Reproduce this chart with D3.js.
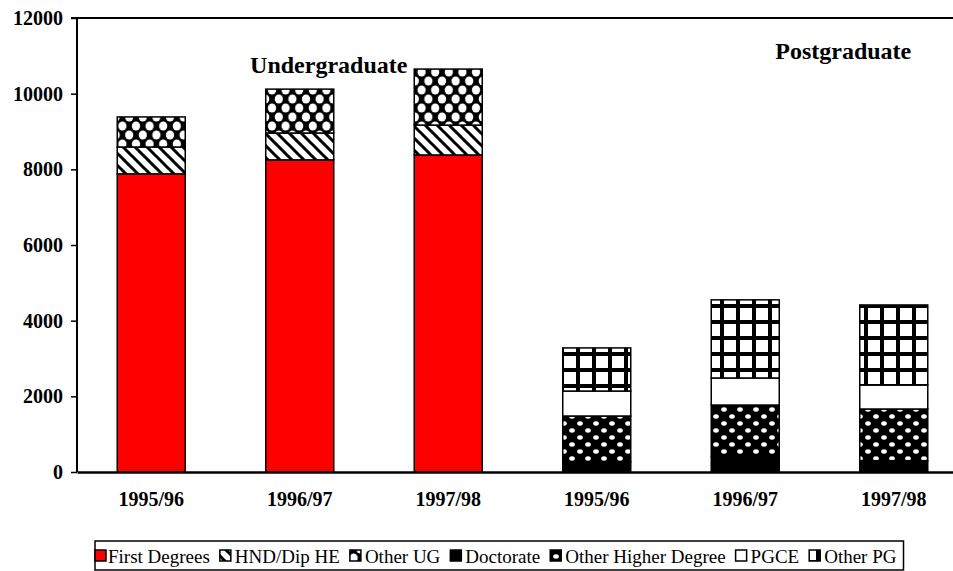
<!DOCTYPE html>
<html><head><meta charset="utf-8">
<script src="https://cdn.jsdelivr.net/npm/d3@7"></script>
<style>html,body{margin:0;padding:0;background:#fff;} svg{display:block;}</style>
</head><body>
<svg id="chart" width="953" height="571"></svg>
<script>
// ---- data ----
const barLabels = ["1995/96","1996/97","1997/98","1995/96","1996/97","1997/98"];
const seriesNames = ["First Degrees","HND/Dip HE","Other UG","Doctorate","Other Higher Degree","PGCE","Other PG"];
const firstDegrees     = [7880, 8250, 8380, 0, 0, 0];
const hndDipHE         = [ 710,  710,  790, 0, 0, 0];
const otherUG          = [ 795, 1160, 1480, 0, 0, 0];
const doctorate        = [0, 0, 0,  260,  420,  300];
const otherHigherDeg   = [0, 0, 0, 1220, 1350, 1365];
const pgce             = [0, 0, 0,  660,  715,  635];
const otherPG          = [0, 0, 0, 1140, 2065, 2115];
const yTicks = [0, 2000, 4000, 6000, 8000, 10000, 12000];
const groupLabels = ["Undergraduate", "Postgraduate"];

const seriesValues = [firstDegrees, hndDipHE, otherUG, doctorate, otherHigherDeg, pgce, otherPG];

// ---- layout ----
const svg = d3.select("#chart");
const L = 77, R = 968, T = 18, B = 472;
const FONT = "'Liberation Serif','Times New Roman',serif";

// patterns
const defs = svg.append("defs");
// diagonal
let p = defs.append("pattern").attr("id","pHND").attr("patternUnits","userSpaceOnUse").attr("width",12).attr("height",12);
p.append("rect").attr("width",12).attr("height",12).attr("fill","#fff");
p.append("path").attr("d","M-3,-3 L15,15 M-9,3 L3,15 M3,-9 L15,3").attr("stroke","#000").attr("stroke-width",3);
// cross-hatch with white blobs
p = defs.append("pattern").attr("id","pOUG").attr("patternUnits","userSpaceOnUse").attr("width",13.6).attr("height",18);
p.append("rect").attr("width",13.6).attr("height",18).attr("fill","#000");
[[0,0],[13.6,0],[0,18],[13.6,18],[6.8,9]].forEach(c=>p.append("ellipse").attr("cx",c[0]).attr("cy",c[1]).attr("rx",4.1).attr("ry",4.5).attr("fill","#fff"));
// dots on black
p = defs.append("pattern").attr("id","pOHD").attr("patternUnits","userSpaceOnUse").attr("width",16).attr("height",14);
p.append("rect").attr("width",16).attr("height",14).attr("fill","#000");
[[4,3.5],[12,10.5]].forEach(c=>{
  p.append("ellipse").attr("cx",c[0]).attr("cy",c[1]).attr("rx",2.8).attr("ry",2.2).attr("fill","#fff");
});
// grid
p = defs.append("pattern").attr("id","pOPG").attr("patternUnits","userSpaceOnUse").attr("width",16).attr("height",16);
p.append("rect").attr("width",16).attr("height",16).attr("fill","#000");
p.append("rect").attr("x",4).attr("y",4).attr("width",12).attr("height",12).attr("fill","#fff");

const fills = ["#ff0000","url(#pHND)","url(#pOUG)","#000","url(#pOHD)","#fff","url(#pOPG)"];

const x = d3.scaleBand().domain(d3.range(barLabels.length)).range([L, R]).paddingInner(0.542).paddingOuter(0.271);
const y = d3.scaleLinear().domain([0, 12000]).range([B, T]);

// stack
const rows = barLabels.map((lab,i)=>{ const o={i}; seriesNames.forEach((s,k)=>o[s]=seriesValues[k][i]); return o; });
const stacked = d3.stack().keys(seriesNames)(rows);

const gBars = svg.append("g");
stacked.forEach((layer,k)=>{
  gBars.selectAll(null).data(layer.filter(d=>d[1]-d[0]>0)).enter().append("rect")
    .attr("x", d=>x(d.data.i)).attr("width", x.bandwidth())
    .attr("y", d=>y(d[1])).attr("height", d=>y(d[0])-y(d[1]))
    .attr("fill", fills[k]).attr("stroke","#000").attr("stroke-width",1.5);
});

// axes
const yAxis = svg.append("g").attr("transform",`translate(${L},0)`)
  .call(d3.axisLeft(y).tickValues(yTicks).tickSize(6).tickPadding(8).tickFormat(d3.format("d")));
yAxis.select(".domain").attr("stroke","#000").attr("stroke-width",2).attr("d",`M-6,${T}H0V${B}`);
yAxis.selectAll(".tick line").attr("stroke","#000").attr("stroke-width",1.5);
yAxis.selectAll("text").attr("font-family",FONT).attr("font-weight","bold").attr("font-size",20).attr("fill","#000");

const xAxis = svg.append("g").attr("transform",`translate(0,${B})`)
  .call(d3.axisBottom(x).tickSize(0).tickPadding(20).tickFormat(i=>barLabels[i]));
xAxis.select(".domain").attr("stroke","#000").attr("stroke-width",2.5);
xAxis.selectAll("text").attr("font-family",FONT).attr("font-weight","bold").attr("font-size",20).attr("fill","#000");

// top border
svg.append("line").attr("x1",L).attr("x2",R).attr("y1",T).attr("y2",T).attr("stroke","#000").attr("stroke-width",2);

// group labels
svg.append("text").attr("x", x(1) + x.bandwidth()/2 + 29).attr("y",73).attr("text-anchor","middle")
  .attr("font-family",FONT).attr("font-weight","bold").attr("font-size",24).text(groupLabels[0]);
svg.append("text").attr("x", x(4) + x.bandwidth()/2 + 98).attr("y",59).attr("text-anchor","middle")
  .attr("font-family",FONT).attr("font-weight","bold").attr("font-size",24).text(groupLabels[1]);

// legend
const leg = svg.append("g");
const legBox = leg.append("rect").attr("x",95).attr("y",541).attr("height",29).attr("fill","#fff").attr("stroke","#000").attr("stroke-width",1.5);
let cx = 95;
const legFills = ["#ff0000","url(#pHND)","url(#pOUG)","#000","url(#pOHD)","#fff","url(#pOPG)"];
seriesNames.forEach((s,k)=>{
  leg.append("rect").attr("x",cx).attr("y",550).attr("width",11).attr("height",11).attr("fill",legFills[k]).attr("stroke","#000").attr("stroke-width",1.5);
  const tx = k === 0 ? cx + 13 : cx + 15;
  const t = leg.append("text").attr("x",tx).attr("y",563).attr("font-family",FONT).attr("font-size",19).text(s);
  cx = tx + t.node().getComputedTextLength() + 10;
});
legBox.attr("width", cx - 95 - 3);
</script>
</body></html>
